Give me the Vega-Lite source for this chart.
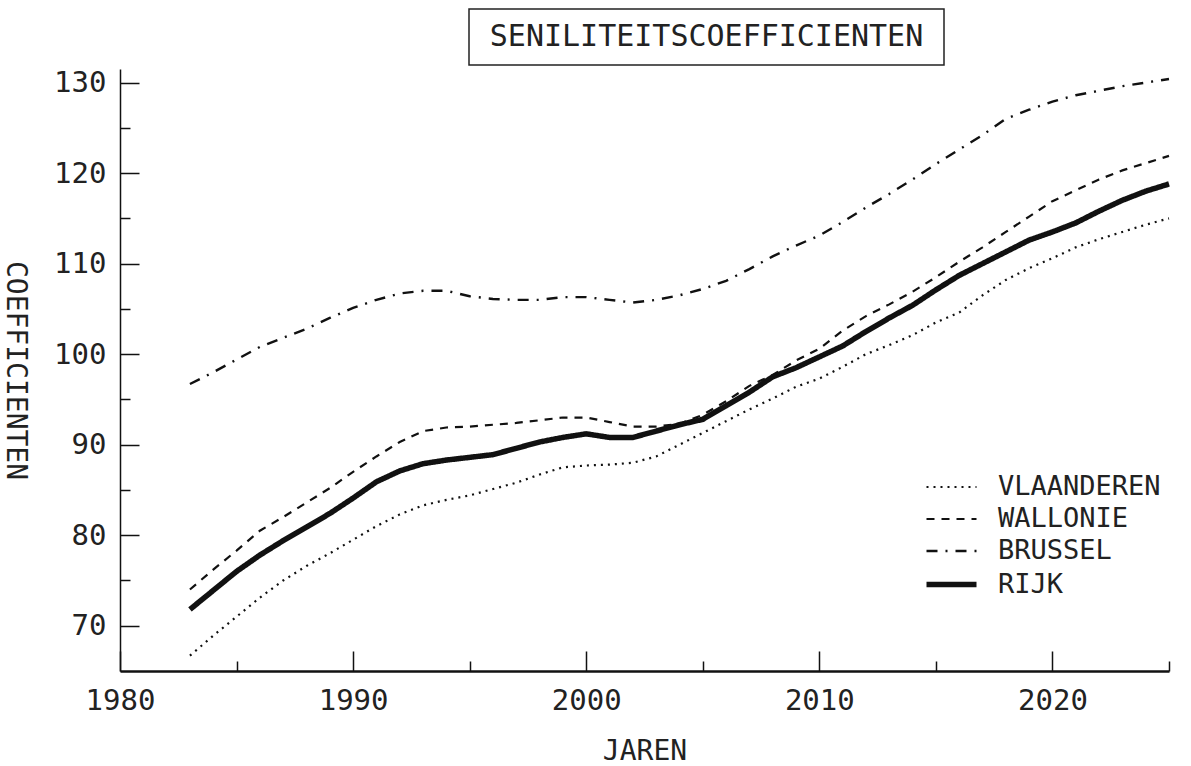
{
  "$schema": "https://vega.github.io/schema/vega-lite/v6.json",
  "background": "white",
  "padding": {"left": 0, "top": 8, "right": 5, "bottom": 0},
  "spacing": 2,
  "config": {
    "view": {"stroke": null},
    "font": "DejaVu Sans Mono",
    "axis": {
      "labelFont": "DejaVu Sans Mono",
      "titleFont": "DejaVu Sans Mono",
      "labelColor": "#222",
      "titleColor": "#222",
      "domainColor": "#111",
      "tickColor": "#111",
      "titleFontWeight": "normal",
      "grid": false
    }
  },
  "vconcat": [
    {
      "spacing": 0,
      "hconcat": [
        {
          "width": 348,
          "height": 56,
          "data": {"values": []},
          "mark": "point"
        },
        {
          "width": 475,
          "height": 56,
          "view": {"stroke": "#222", "strokeWidth": 1.5},
          "data": {"values": [{"t": "SENILITEITSCOEFFICIENTEN"}]},
          "mark": {"type": "text", "fontSize": 30, "font": "DejaVu Sans Mono", "color": "#222", "baseline": "middle", "align": "center"},
          "encoding": {"text": {"field": "t", "type": "nominal"}}
        }
      ]
    },
    {
      "width": 1049,
      "height": 602,
      "data": {
        "values": [
          {"year": 1983, "series": "VLAANDEREN", "value": 66.7}, {"year": 1983, "series": "WALLONIE", "value": 74.0}, {"year": 1983, "series": "BRUSSEL", "value": 96.7}, {"year": 1983, "series": "RIJK", "value": 71.8},
          {"year": 1984, "series": "VLAANDEREN", "value": 68.9}, {"year": 1984, "series": "WALLONIE", "value": 76.2}, {"year": 1984, "series": "BRUSSEL", "value": 98.0}, {"year": 1984, "series": "RIJK", "value": 73.9},
          {"year": 1985, "series": "VLAANDEREN", "value": 71.0}, {"year": 1985, "series": "WALLONIE", "value": 78.3}, {"year": 1985, "series": "BRUSSEL", "value": 99.4}, {"year": 1985, "series": "RIJK", "value": 76.0},
          {"year": 1986, "series": "VLAANDEREN", "value": 73.1}, {"year": 1986, "series": "WALLONIE", "value": 80.5}, {"year": 1986, "series": "BRUSSEL", "value": 100.8}, {"year": 1986, "series": "RIJK", "value": 77.8},
          {"year": 1987, "series": "VLAANDEREN", "value": 75.0}, {"year": 1987, "series": "WALLONIE", "value": 82.0}, {"year": 1987, "series": "BRUSSEL", "value": 101.8}, {"year": 1987, "series": "RIJK", "value": 79.4},
          {"year": 1988, "series": "VLAANDEREN", "value": 76.6}, {"year": 1988, "series": "WALLONIE", "value": 83.6}, {"year": 1988, "series": "BRUSSEL", "value": 102.8}, {"year": 1988, "series": "RIJK", "value": 80.9},
          {"year": 1989, "series": "VLAANDEREN", "value": 78.0}, {"year": 1989, "series": "WALLONIE", "value": 85.2}, {"year": 1989, "series": "BRUSSEL", "value": 104.0}, {"year": 1989, "series": "RIJK", "value": 82.4},
          {"year": 1990, "series": "VLAANDEREN", "value": 79.5}, {"year": 1990, "series": "WALLONIE", "value": 87.0}, {"year": 1990, "series": "BRUSSEL", "value": 105.1}, {"year": 1990, "series": "RIJK", "value": 84.1},
          {"year": 1991, "series": "VLAANDEREN", "value": 81.0}, {"year": 1991, "series": "WALLONIE", "value": 88.7}, {"year": 1991, "series": "BRUSSEL", "value": 106.0}, {"year": 1991, "series": "RIJK", "value": 85.9},
          {"year": 1992, "series": "VLAANDEREN", "value": 82.3}, {"year": 1992, "series": "WALLONIE", "value": 90.3}, {"year": 1992, "series": "BRUSSEL", "value": 106.7}, {"year": 1992, "series": "RIJK", "value": 87.1},
          {"year": 1993, "series": "VLAANDEREN", "value": 83.3}, {"year": 1993, "series": "WALLONIE", "value": 91.5}, {"year": 1993, "series": "BRUSSEL", "value": 107.0}, {"year": 1993, "series": "RIJK", "value": 87.9},
          {"year": 1994, "series": "VLAANDEREN", "value": 83.9}, {"year": 1994, "series": "WALLONIE", "value": 91.9}, {"year": 1994, "series": "BRUSSEL", "value": 107.0}, {"year": 1994, "series": "RIJK", "value": 88.3},
          {"year": 1995, "series": "VLAANDEREN", "value": 84.4}, {"year": 1995, "series": "WALLONIE", "value": 92.0}, {"year": 1995, "series": "BRUSSEL", "value": 106.4}, {"year": 1995, "series": "RIJK", "value": 88.6},
          {"year": 1996, "series": "VLAANDEREN", "value": 85.1}, {"year": 1996, "series": "WALLONIE", "value": 92.2}, {"year": 1996, "series": "BRUSSEL", "value": 106.1}, {"year": 1996, "series": "RIJK", "value": 88.9},
          {"year": 1997, "series": "VLAANDEREN", "value": 85.8}, {"year": 1997, "series": "WALLONIE", "value": 92.4}, {"year": 1997, "series": "BRUSSEL", "value": 106.0}, {"year": 1997, "series": "RIJK", "value": 89.6},
          {"year": 1998, "series": "VLAANDEREN", "value": 86.7}, {"year": 1998, "series": "WALLONIE", "value": 92.7}, {"year": 1998, "series": "BRUSSEL", "value": 106.0}, {"year": 1998, "series": "RIJK", "value": 90.3},
          {"year": 1999, "series": "VLAANDEREN", "value": 87.5}, {"year": 1999, "series": "WALLONIE", "value": 93.0}, {"year": 1999, "series": "BRUSSEL", "value": 106.3}, {"year": 1999, "series": "RIJK", "value": 90.8},
          {"year": 2000, "series": "VLAANDEREN", "value": 87.7}, {"year": 2000, "series": "WALLONIE", "value": 93.0}, {"year": 2000, "series": "BRUSSEL", "value": 106.3}, {"year": 2000, "series": "RIJK", "value": 91.2},
          {"year": 2001, "series": "VLAANDEREN", "value": 87.8}, {"year": 2001, "series": "WALLONIE", "value": 92.5}, {"year": 2001, "series": "BRUSSEL", "value": 106.0}, {"year": 2001, "series": "RIJK", "value": 90.8},
          {"year": 2002, "series": "VLAANDEREN", "value": 88.0}, {"year": 2002, "series": "WALLONIE", "value": 92.0}, {"year": 2002, "series": "BRUSSEL", "value": 105.7}, {"year": 2002, "series": "RIJK", "value": 90.8},
          {"year": 2003, "series": "VLAANDEREN", "value": 88.7}, {"year": 2003, "series": "WALLONIE", "value": 92.0}, {"year": 2003, "series": "BRUSSEL", "value": 106.0}, {"year": 2003, "series": "RIJK", "value": 91.5},
          {"year": 2004, "series": "VLAANDEREN", "value": 90.0}, {"year": 2004, "series": "WALLONIE", "value": 92.3}, {"year": 2004, "series": "BRUSSEL", "value": 106.5}, {"year": 2004, "series": "RIJK", "value": 92.2},
          {"year": 2005, "series": "VLAANDEREN", "value": 91.3}, {"year": 2005, "series": "WALLONIE", "value": 93.3}, {"year": 2005, "series": "BRUSSEL", "value": 107.2}, {"year": 2005, "series": "RIJK", "value": 92.8},
          {"year": 2006, "series": "VLAANDEREN", "value": 92.6}, {"year": 2006, "series": "WALLONIE", "value": 94.8}, {"year": 2006, "series": "BRUSSEL", "value": 108.1}, {"year": 2006, "series": "RIJK", "value": 94.3},
          {"year": 2007, "series": "VLAANDEREN", "value": 93.9}, {"year": 2007, "series": "WALLONIE", "value": 96.5}, {"year": 2007, "series": "BRUSSEL", "value": 109.4}, {"year": 2007, "series": "RIJK", "value": 95.8},
          {"year": 2008, "series": "VLAANDEREN", "value": 95.1}, {"year": 2008, "series": "WALLONIE", "value": 97.7}, {"year": 2008, "series": "BRUSSEL", "value": 110.8}, {"year": 2008, "series": "RIJK", "value": 97.5},
          {"year": 2009, "series": "VLAANDEREN", "value": 96.4}, {"year": 2009, "series": "WALLONIE", "value": 99.3}, {"year": 2009, "series": "BRUSSEL", "value": 112.0}, {"year": 2009, "series": "RIJK", "value": 98.5},
          {"year": 2010, "series": "VLAANDEREN", "value": 97.3}, {"year": 2010, "series": "WALLONIE", "value": 100.6}, {"year": 2010, "series": "BRUSSEL", "value": 113.1}, {"year": 2010, "series": "RIJK", "value": 99.7},
          {"year": 2011, "series": "VLAANDEREN", "value": 98.6}, {"year": 2011, "series": "WALLONIE", "value": 102.6}, {"year": 2011, "series": "BRUSSEL", "value": 114.6}, {"year": 2011, "series": "RIJK", "value": 100.9},
          {"year": 2012, "series": "VLAANDEREN", "value": 100.0}, {"year": 2012, "series": "WALLONIE", "value": 104.2}, {"year": 2012, "series": "BRUSSEL", "value": 116.2}, {"year": 2012, "series": "RIJK", "value": 102.5},
          {"year": 2013, "series": "VLAANDEREN", "value": 101.0}, {"year": 2013, "series": "WALLONIE", "value": 105.5}, {"year": 2013, "series": "BRUSSEL", "value": 117.7}, {"year": 2013, "series": "RIJK", "value": 104.0},
          {"year": 2014, "series": "VLAANDEREN", "value": 102.1}, {"year": 2014, "series": "WALLONIE", "value": 106.9}, {"year": 2014, "series": "BRUSSEL", "value": 119.3}, {"year": 2014, "series": "RIJK", "value": 105.4},
          {"year": 2015, "series": "VLAANDEREN", "value": 103.5}, {"year": 2015, "series": "WALLONIE", "value": 108.5}, {"year": 2015, "series": "BRUSSEL", "value": 121.0}, {"year": 2015, "series": "RIJK", "value": 107.1},
          {"year": 2016, "series": "VLAANDEREN", "value": 104.6}, {"year": 2016, "series": "WALLONIE", "value": 110.2}, {"year": 2016, "series": "BRUSSEL", "value": 122.6}, {"year": 2016, "series": "RIJK", "value": 108.7},
          {"year": 2017, "series": "VLAANDEREN", "value": 106.5}, {"year": 2017, "series": "WALLONIE", "value": 111.8}, {"year": 2017, "series": "BRUSSEL", "value": 124.2}, {"year": 2017, "series": "RIJK", "value": 110.0},
          {"year": 2018, "series": "VLAANDEREN", "value": 108.2}, {"year": 2018, "series": "WALLONIE", "value": 113.5}, {"year": 2018, "series": "BRUSSEL", "value": 126.0}, {"year": 2018, "series": "RIJK", "value": 111.3},
          {"year": 2019, "series": "VLAANDEREN", "value": 109.5}, {"year": 2019, "series": "WALLONIE", "value": 115.2}, {"year": 2019, "series": "BRUSSEL", "value": 127.0}, {"year": 2019, "series": "RIJK", "value": 112.6},
          {"year": 2020, "series": "VLAANDEREN", "value": 110.6}, {"year": 2020, "series": "WALLONIE", "value": 116.9}, {"year": 2020, "series": "BRUSSEL", "value": 127.9}, {"year": 2020, "series": "RIJK", "value": 113.5},
          {"year": 2021, "series": "VLAANDEREN", "value": 111.8}, {"year": 2021, "series": "WALLONIE", "value": 118.1}, {"year": 2021, "series": "BRUSSEL", "value": 128.6}, {"year": 2021, "series": "RIJK", "value": 114.5},
          {"year": 2022, "series": "VLAANDEREN", "value": 112.7}, {"year": 2022, "series": "WALLONIE", "value": 119.3}, {"year": 2022, "series": "BRUSSEL", "value": 129.1}, {"year": 2022, "series": "RIJK", "value": 115.8},
          {"year": 2023, "series": "VLAANDEREN", "value": 113.5}, {"year": 2023, "series": "WALLONIE", "value": 120.3}, {"year": 2023, "series": "BRUSSEL", "value": 129.6}, {"year": 2023, "series": "RIJK", "value": 117.0},
          {"year": 2024, "series": "VLAANDEREN", "value": 114.3}, {"year": 2024, "series": "WALLONIE", "value": 121.1}, {"year": 2024, "series": "BRUSSEL", "value": 130.0}, {"year": 2024, "series": "RIJK", "value": 118.0},
          {"year": 2025, "series": "VLAANDEREN", "value": 115.0}, {"year": 2025, "series": "WALLONIE", "value": 121.9}, {"year": 2025, "series": "BRUSSEL", "value": 130.4}, {"year": 2025, "series": "RIJK", "value": 118.8}
        ]
      },
      "mark": {"type": "line", "color": "#111", "strokeCap": "butt"},
      "encoding": {
        "x": {
          "field": "year", "type": "quantitative",
          "scale": {"domain": [1980, 2025], "nice": false, "zero": false},
          "axis": {
            "title": "JAREN",
            "values": [1980, 1985, 1990, 1995, 2000, 2005, 2010, 2015, 2020, 2025],
            "format": "d",
            "labelExpr": "datum.value % 10 === 0 ? datum.label : ''",
            "tickSize": -20,
            "tickDash": {"condition": {"test": "datum.value % 10 !== 0", "value": [10, 40]}, "value": [1, 0]},
            "tickWidth": 1.5,
            "domainWidth": 2.5,
            "labelPadding": 35,
            "labelFontSize": 29,
            "labelFlush": false,
            "labelOverlap": false,
            "titleFontSize": 28,
            "titlePadding": 22
          }
        },
        "y": {
          "field": "value", "type": "quantitative",
          "scale": {"domain": [65, 131.5], "nice": false, "zero": false},
          "axis": {
            "title": "COEFFICIENTEN",
            "titleAngle": 90,
            "titleBaseline": "top",
            "values": [70, 75, 80, 85, 90, 95, 100, 105, 110, 115, 120, 125, 130],
            "labelExpr": "datum.value % 10 === 0 ? datum.label : ''",
            "tickSize": -19,
            "tickDash": {"condition": {"test": "datum.value % 10 !== 0", "value": [10, 40]}, "value": [1, 0]},
            "tickWidth": 1.5,
            "domainWidth": 1.5,
            "labelPadding": 33,
            "labelFontSize": 29,
            "labelFlush": false,
            "labelOverlap": false,
            "titleFontSize": 28,
            "titlePadding": 25
          }
        },
        "strokeDash": {
          "field": "series", "type": "ordinal",
          "scale": {"type": "ordinal", "domain": ["VLAANDEREN", "WALLONIE", "BRUSSEL", "RIJK"], "range": [[2, 5], [8, 7], [11, 8, 2, 8], [1, 0]]},
          "legend": {"title": null, "orient": "none", "legendX": 816, "legendY": 464, "symbolType": "M-2,0H2", "symbolSize": 625, "symbolStrokeColor": "#111", "labelFontSize": 27, "labelFont": "DejaVu Sans Mono", "labelColor": "#222", "labelOffset": 31, "labelLimit": 0, "rowPadding": 5, "padding": 0}
        },
        "strokeWidth": {
          "field": "series", "type": "ordinal",
          "scale": {"type": "ordinal", "domain": ["VLAANDEREN", "WALLONIE", "BRUSSEL", "RIJK"], "range": [2.2, 2.2, 2.4, 5.5]},
          "legend": {"title": null, "orient": "none", "legendX": 816, "legendY": 464, "symbolType": "M-2,0H2", "symbolSize": 625, "symbolStrokeColor": "#111", "labelFontSize": 27, "labelFont": "DejaVu Sans Mono", "labelColor": "#222", "labelOffset": 31, "labelLimit": 0, "rowPadding": 5, "padding": 0}
        }
      }
    }
  ]
}
